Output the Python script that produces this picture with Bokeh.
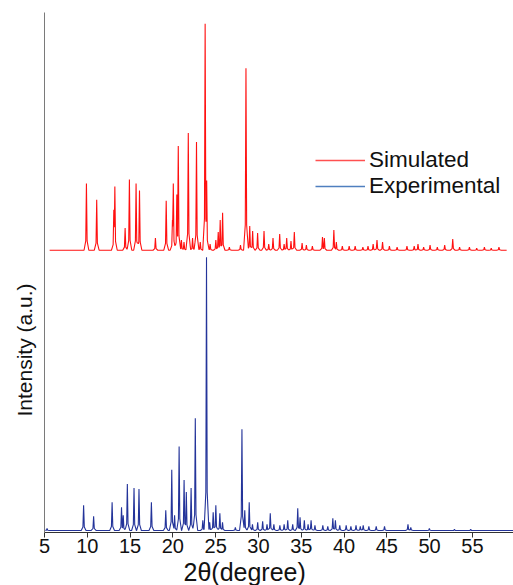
from bokeh.plotting import figure
from bokeh.models import Range1d, FixedTicker, Legend, LegendItem, Title
from bokeh.embed import file_html
from bokeh.resources import INLINE

# ---- data (2theta in degrees, intensity in a.u.) ----
sim_two_theta = [9.90, 11.10, 13.10, 13.22, 14.42, 14.92, 15.70, 16.10, 17.96, 19.22,
                 19.95, 20.05, 20.46, 20.63, 21.00, 21.30, 21.80, 22.30, 22.76, 23.20,
                 23.77, 23.95, 24.35, 25.02, 25.30, 25.53, 25.81, 26.60, 27.90, 28.54,
                 28.98, 29.32, 29.90, 30.65, 31.20, 31.70, 32.48, 33.00, 33.30, 33.80,
                 34.19, 35.10, 35.60, 36.30, 37.48, 37.70, 38.81, 39.10, 39.80, 40.60,
                 41.30, 42.20, 42.80, 43.40, 43.85, 44.50, 45.30, 46.20, 47.35, 48.20,
                 48.64, 49.30, 50.05, 50.90, 51.76, 52.70, 53.50, 54.65, 55.50, 56.40,
                 57.20, 58.10]
sim_intensity = [66, 50, 40, 63, 22, 70, 66, 59, 12, 49,
                 30, 66, 55, 103, 10, 8, 116, 12, 107, 8,
                 224, 69, 6, 10, 18, 30, 37, 3, 5, 180,
                 24, 19, 17, 19, 6, 12, 16, 6, 12, 9,
                 18, 7, 5, 4, 13, 12, 20, 8, 4, 4,
                 4, 3, 4, 6, 10, 8, 4, 3, 4, 4,
                 6, 3, 5, 3, 5, 11, 3, 3, 2, 3,
                 2, 3]

exp_two_theta = [5.30, 9.57, 10.74, 12.90, 14.00, 14.20, 14.68, 15.46, 16.04, 17.49,
                 19.17, 19.87, 20.20, 20.73, 21.31, 21.57, 22.13, 22.62, 23.50, 23.93,
                 24.30, 24.71, 25.02, 25.49, 25.80, 27.30, 28.07, 28.40, 28.92, 29.30,
                 29.91, 30.49, 31.00, 31.38, 31.80, 32.50, 33.00, 33.42, 34.00, 34.59,
                 34.86, 35.36, 35.80, 36.15, 36.60, 37.52, 38.10, 38.69, 38.99, 39.50,
                 40.25, 40.80, 41.40, 41.90, 42.24, 42.90, 43.76, 44.73, 47.47, 47.80,
                 49.97, 52.90, 54.80]
exp_intensity = [2, 25, 14, 28, 23, 15, 46, 42, 41, 28,
                 20, 60, 15, 83, 50, 38, 42, 111, 10, 270,
                 8, 18, 25, 17, 8, 3, 100, 20, 28, 6,
                 8, 9, 6, 17, 6, 5, 6, 10, 6, 22,
                 13, 10, 6, 10, 5, 5, 4, 12, 10, 5,
                 5, 4, 5, 4, 5, 4, 4, 4, 6, 3,
                 2, 1, 1]

x_ticks = [5, 10, 15, 20, 25, 30, 35, 40, 45, 50, 55]
series_names = ["Simulated", "Experimental"]

SIM_OFFSET = 279
EXP_OFFSET = 2


def profile(centers, heights, base, start, end, w1=0.08, w2=0.28):
    xs = {start, end}
    for c in centers:
        for d in (-w2, -w1, 0.0, w1, w2):
            xs.add(round(c + d, 4))
    xs = sorted(x for x in xs if start <= x <= end)
    ys = []
    for x in xs:
        best = 0.0
        for c, h in zip(centers, heights):
            d = abs(x - c)
            if d <= w1:
                v = h - 0.86 * h * d / w1
            elif d <= w2:
                v = 0.14 * h * (w2 - d) / (w2 - w1)
            else:
                v = 0.0
            best = max(best, v)
        ys.append(base + best)
    return xs, ys


FONT = "Liberation Sans"

p = figure(width=513, height=585, output_backend="svg", toolbar_location=None,
           x_range=Range1d(5, 59.8), y_range=Range1d(0, 514),
           min_border_left=44, min_border_right=0, min_border_top=12, min_border_bottom=40)
p.outline_line_color = None
p.xgrid.visible = False
p.ygrid.visible = False
p.background_fill_color = "white"

sx, sy = profile(sim_two_theta, sim_intensity, SIM_OFFSET, 5.6, 59.0)
ex, ey = profile(exp_two_theta, exp_intensity, EXP_OFFSET, 5.1, 59.8)

p.line(sx, sy, line_color="#ff1010", line_width=1.1)
p.line(ex, ey, line_color="#24349a", line_width=1.1)

# legend samples (drawn off-range, only used for the legend glyphs)
r_leg_sim = p.line([0, 1], [-100, -100], line_color="#ff5050", line_width=1.5)
r_leg_exp = p.line([0, 1], [-100, -100], line_color="#4f7fbf", line_width=1.5)
legend = Legend(items=[LegendItem(label=series_names[0], renderers=[r_leg_sim]),
                       LegendItem(label=series_names[1], renderers=[r_leg_exp])],
                location=(271, 333), orientation="vertical",
                glyph_width=50, glyph_height=22, label_height=22, label_standoff=4,
                spacing=0, padding=0, margin=0,
                label_text_font=FONT, label_text_font_size="22.5px", label_text_color="#111111",
                background_fill_alpha=0, border_line_alpha=0)
p.add_layout(legend)

# x axis
p.xaxis.ticker = FixedTicker(ticks=x_ticks)
p.xaxis.minor_tick_line_color = None
p.xaxis.major_tick_out = 5
p.xaxis.major_tick_in = 0
p.xaxis.axis_line_color = "#333333"
p.xaxis.major_tick_line_color = "#333333"
p.xaxis.major_label_text_font = FONT
p.xaxis.major_label_text_font_size = "20px"
p.xaxis.major_label_text_color = "#111111"
p.xaxis.major_label_standoff = 1

# y axis (no ticks)
p.yaxis.ticker = FixedTicker(ticks=[])
p.yaxis.major_label_text_font_size = "0px"
p.yaxis.major_tick_out = 0
p.yaxis.major_tick_in = 0
p.yaxis.minor_tick_line_color = None
p.yaxis.axis_line_color = "#7a7a7a"

p.add_layout(Title(text="2θ(degree)", align="left", offset=139, standoff=0,
                   text_font=FONT, text_font_size="25px", text_font_style="normal",
                   text_color="#111111"), "below")
p.add_layout(Title(text="Intensity (a.u.)", align="left", offset=116, standoff=17,
                   text_font=FONT, text_font_size="21px", text_font_style="normal",
                   text_color="#111111"), "left")

open("out.html", "w").write(file_html(p, INLINE))
